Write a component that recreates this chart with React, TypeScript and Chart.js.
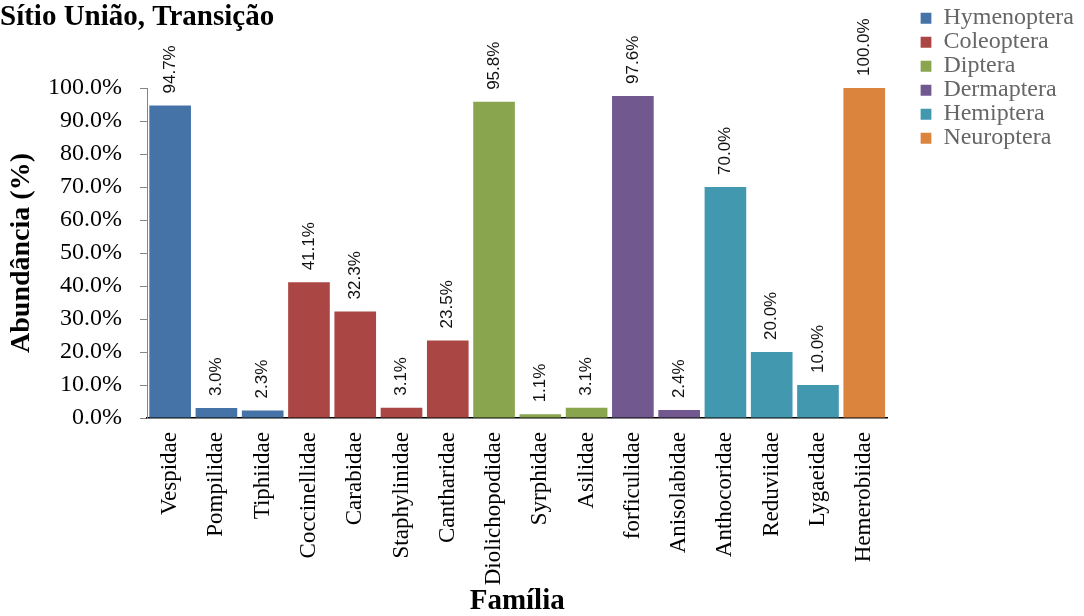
import React, { useEffect, useRef } from 'react';
import { Chart, registerables } from 'chart.js';

Chart.register(...registerables);

// ---- data ----
const families = [
  'Vespidae', 'Pompilidae', 'Tiphiidae', 'Coccinellidae', 'Carabidae', 'Staphylinidae',
  'Cantharidae', 'Diolichopodidae', 'Syrphidae', 'Asilidae', 'forficulidae', 'Anisolabidae',
  'Anthocoridae', 'Reduviidae', 'Lygaeidae', 'Hemerobiidae',
];
const values = [94.7, 3.0, 2.3, 41.1, 32.3, 3.1, 23.5, 95.8, 1.1, 3.1, 97.6, 2.4, 70.0, 20.0, 10.0, 100.0];
const familyOrder = [
  'Hymenoptera', 'Hymenoptera', 'Hymenoptera', 'Coleoptera', 'Coleoptera', 'Coleoptera',
  'Coleoptera', 'Diptera', 'Diptera', 'Diptera', 'Dermaptera', 'Dermaptera',
  'Hemiptera', 'Hemiptera', 'Hemiptera', 'Neuroptera',
];
const orders = ['Hymenoptera', 'Coleoptera', 'Diptera', 'Dermaptera', 'Hemiptera', 'Neuroptera'];
const orderColors = ['#4572A7', '#AA4643', '#89A54E', '#71588F', '#4198AF', '#DB843D'];
const valueLabels = values.map((v) => v.toFixed(1) + '%');

const chartTitle = 'Sítio União, Transição';
const xTitle = 'Família';
const yTitle = 'Abundância (%)';

const SERIF = '"Liberation Serif", "Times New Roman", serif';
const SANS = '"Liberation Sans", Arial, sans-serif';

const barLabelPlugin = {
  id: 'barLabels',
  afterDatasetsDraw(chart: any) {
    const ctx = chart.ctx;
    const meta = chart.getDatasetMeta(0);
    ctx.save();
    ctx.font = '17px ' + SANS;
    ctx.fillStyle = '#111';
    ctx.textAlign = 'left';
    ctx.textBaseline = 'middle';
    meta.data.forEach((bar: any, i: number) => {
      ctx.save();
      ctx.translate(bar.x, bar.y - 12);
      ctx.rotate(-Math.PI / 2);
      ctx.fillText(valueLabels[i], 0, 0);
      ctx.restore();
    });
    ctx.restore();
  },
};

export default function App() {
  const ref = useRef<HTMLCanvasElement | null>(null);

  useEffect(() => {
    if (!ref.current) return;
    const colors = familyOrder.map((o) => orderColors[orders.indexOf(o)]);
    const chart = new Chart(ref.current, {
      type: 'bar',
      data: {
        labels: families,
        datasets: [
          {
            data: values,
            backgroundColor: colors,
            borderWidth: 0,
            barPercentage: 0.9,
            categoryPercentage: 1.0,
          },
        ],
      },
      options: {
        animation: false,
        responsive: true,
        maintainAspectRatio: false,
        layout: { padding: { left: 0, right: 0, top: 0, bottom: 0 } },
        scales: {
          x: {
            grid: { display: false, drawTicks: false },
            border: { display: true, color: '#000', width: 1.5 },
            ticks: {
              autoSkip: false,
              minRotation: 90,
              maxRotation: 90,
              padding: 14,
              color: '#000',
              font: { family: SERIF, size: 23 },
            },
            title: {
              display: true,
              text: xTitle,
              color: '#000',
              font: { family: SERIF, size: 29, weight: 'bold', lineHeight: 1 },
              padding: { top: 0, bottom: 0 },
            },
            afterFit: (s: any) => {
              s.height = 198;
            },
          },
          y: {
            min: 0,
            max: 100,
            grid: { display: true, drawOnChartArea: false, drawTicks: true, tickLength: 7, color: '#868686' },
            border: { display: true, color: '#868686', width: 1 },
            ticks: {
              stepSize: 10,
              padding: 18,
              color: '#000',
              font: { family: SERIF, size: 24 },
              callback: (v: any) => Number(v).toFixed(1) + '%',
            },
            title: {
              display: true,
              text: yTitle,
              color: '#000',
              font: { family: SERIF, size: 28, weight: 'bold' },
              padding: { top: 5, bottom: 0 },
            },
            afterFit: (s: any) => {
              s.width = 147;
            },
          },
          yGap: {
            type: 'linear',
            position: 'right',
            display: true,
            grid: { display: false, drawTicks: false },
            border: { display: false },
            ticks: { display: false },
            afterFit: (s: any) => {
              s.width = 33;
            },
          },
        },
        plugins: {
          title: {
            display: true,
            text: chartTitle,
            align: 'start',
            color: '#000',
            font: { family: SERIF, size: 29, weight: 'bold' },
            padding: { top: 0, bottom: 53.2 },
          },
          legend: {
            display: true,
            position: 'right',
            align: 'start',
            onClick: () => {},
            title: { display: true, text: '', font: { size: 1 }, padding: { top: 5, bottom: 0 } },
            labels: {
              boxWidth: 11,
              boxHeight: 11,
              padding: 0,
              color: '#000',
              font: { family: SERIF, size: 24 },
              generateLabels: () =>
                orders.map((o, i) => ({
                  text: o,
                  fillStyle: orderColors[i],
                  strokeStyle: orderColors[i],
                  lineWidth: 0,
                  hidden: false,
                  index: i,
                  datasetIndex: 0,
                })),
            },
          },
          tooltip: { enabled: false },
        },
      },
      plugins: [barLabelPlugin],
    } as any);
    return () => chart.destroy();
  }, []);

  return (
    <div style={{ position: 'absolute', left: 0, top: 0, width: 1084, height: 616, background: '#fff' }}>
      <canvas ref={ref} />
    </div>
  );
}
